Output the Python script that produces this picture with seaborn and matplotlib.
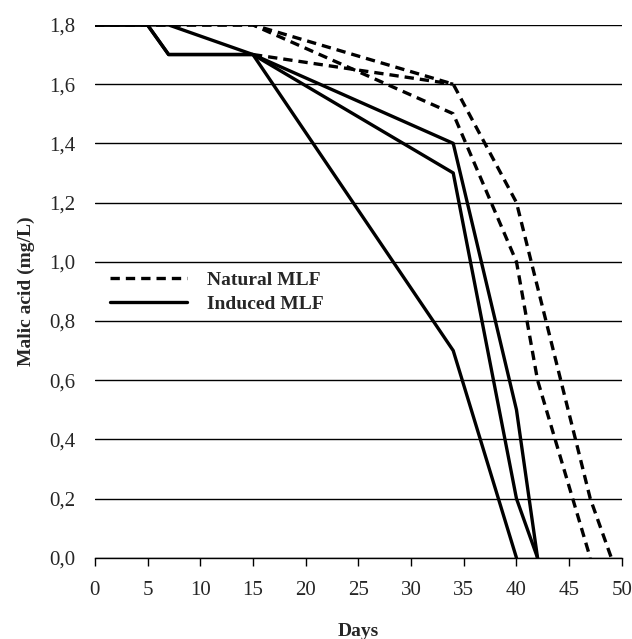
"""Malic acid degradation during natural and induced MLF."""

import matplotlib
matplotlib.use("Agg")
import matplotlib.pyplot as plt
import pandas as pd
import seaborn as sns

# induced MLF curves (solid)
induced_a_days = [0, 5, 7, 15, 34, 40]
induced_a_malic = [1.8, 1.8, 1.7, 1.7, 0.7, 0.0]
induced_b_days = [0, 7, 15, 34, 40, 42]
induced_b_malic = [1.8, 1.8, 1.7, 1.4, 0.5, 0.0]
induced_c_days = [0, 5, 7, 15, 34, 40, 42]
induced_c_malic = [1.8, 1.8, 1.7, 1.7, 1.3, 0.2, 0.0]

# natural MLF curves (dashed); the third one joins the first at day 34
natural_a_days = [0, 15, 34, 40, 47, 49]
natural_a_malic = [1.8, 1.8, 1.6, 1.2, 0.2, 0.0]
natural_b_days = [0, 15, 34, 40, 42, 47]
natural_b_malic = [1.8, 1.8, 1.5, 1.0, 0.6, 0.0]
natural_c_days = [15, 34]
natural_c_malic = [1.7, 1.6]

x_ticks = list(range(0, 51, 5))
y_ticks = [0.0, 0.2, 0.4, 0.6, 0.8, 1.0, 1.2, 1.4, 1.6, 1.8]

curves = [
    ("Natural MLF", "n1", natural_a_days, natural_a_malic),
    ("Natural MLF", "n2", natural_b_days, natural_b_malic),
    ("Natural MLF", "n3", natural_c_days, natural_c_malic),
    ("Induced MLF", "i1", induced_a_days, induced_a_malic),
    ("Induced MLF", "i2", induced_b_days, induced_b_malic),
    ("Induced MLF", "i3", induced_c_days, induced_c_malic),
]
df = pd.DataFrame.from_records(
    [
        {"MLF": group, "unit": unit, "Days": d, "Malic": m}
        for group, unit, days, malic in curves
        for d, m in zip(days, malic)
    ]
)

sns.set_style("white")
plt.rcParams["font.family"] = ["Liberation Serif", "DejaVu Serif"]

fig = plt.figure(figsize=(6.32, 6.39), dpi=100)
ax = fig.add_axes([0.150, 0.127, 0.834, 0.834])

for y in y_ticks:
    ax.axhline(y, color="black", linewidth=1.0, zorder=1)

sns.lineplot(
    data=df, x="Days", y="Malic", units="unit", estimator=None, sort=False,
    style="MLF", style_order=["Natural MLF", "Induced MLF"],
    dashes={"Natural MLF": (2.8, 1.8), "Induced MLF": ""},
    color="black", linewidth=2.4, ax=ax, zorder=3,
)

ax.set_xlim(0, 50)
ax.set_ylim(0, 1.8)
ax.set_xticks(x_ticks)
ax.set_yticks(y_ticks)
ax.set_yticklabels([f"{v:.1f}".replace(".", ",") for v in y_ticks])
for side in ("left", "right", "top"):
    ax.spines[side].set_visible(False)
ax.spines["bottom"].set_color("black")
ax.spines["bottom"].set_linewidth(1.0)
ax.tick_params(axis="x", direction="out", length=6, width=1.0, color="black",
               labelsize=15, pad=11, bottom=True)
ax.tick_params(axis="y", length=0, labelsize=15, pad=14)
ax.set_xlabel("Days", fontsize=14, fontweight="bold", labelpad=16)
ax.set_ylabel("Malic acid (mg/L)", fontsize=14, fontweight="bold", labelpad=10)

leg = ax.legend(
    loc="upper left", bbox_to_anchor=(-0.005, 0.57), frameon=False,
    handlelength=4.0, handletextpad=1.0, labelspacing=0.3,
    prop={"size": 14, "weight": "bold"},
)
leg.set_title(None)

fig.savefig("out.png", dpi=100)
